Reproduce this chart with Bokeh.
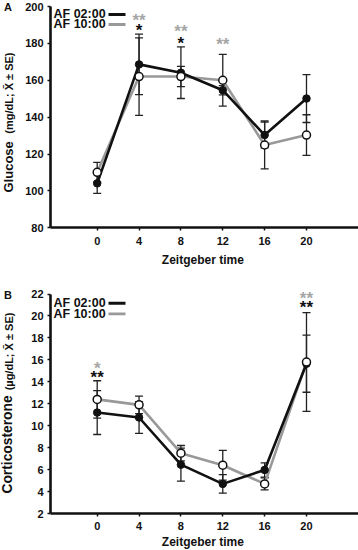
import math
from bokeh.plotting import figure
from bokeh.layouts import column
from bokeh.models import ColumnDataSource, Whisker, TeeHead, Label, FixedTicker, Range1d
from bokeh.embed import file_html
from bokeh.resources import INLINE

# ---------------- data ----------------
zt = [0, 4, 8, 12, 16, 20]

glu_af02 = [104.1, 168.6, 164.1, 154.6, 130.3, 150.1]
glu_af02_se = [5.4, 16.4, 14.0, 2.5, 7.0, 13.0]
glu_af10 = [110.1, 162.0, 162.0, 160.0, 124.9, 130.3]
glu_af10_se = [5.4, 21.0, 5.5, 14.0, 13.0, 11.0]

cort_af02 = [11.2, 10.75, 6.45, 4.7, 5.97, 15.65]
cort_af02_se = [2.0, 1.45, 1.5, 0.85, 0.65, 2.6]
cort_af10 = [12.4, 11.9, 7.5, 6.4, 4.7, 15.8]
cort_af10_se = [1.7, 0.8, 0.7, 1.35, 0.55, 4.5]

series_names = ["AF 02:00", "AF 10:00"]
glu_ticks = [80, 100, 120, 140, 160, 180, 200]
cort_ticks = [2, 4, 6, 8, 10, 12, 14, 16, 18, 20, 22]
x_ticks = [0, 4, 8, 12, 16, 20]

# significance marks: (zt, text, series index, level)
glu_sig = [(4, "**", 1, 194.6), (4, "*", 0, 189.2), (8, "**", 1, 188.6),
           (8, "*", 0, 182.1), (12, "**", 1, 181.6)]
cort_sig = [(0, "*", 1, 15.58), (0, "**", 0, 14.69), (20, "**", 1, 21.91),
            (20, "**", 0, 21.07)]

# ---------------- style ----------------
FONT = "Liberation Sans"
BLACK = "#111111"
GREY = "#999999"
STAR_GREY = "#a6a6a6"
W = 358
X0, X1 = -9.24, 24.97      # full frame width
YAX = -4.46                # where the y axis sits
PX_X = 10.465              # px per x unit


def px2x(px):
    return X0 + px / PX_X


def make_panel(panel, ylo, yhi, ybot, ytop, ticks, af02, af02se, af10, af10se,
               sig, ylab_main, ylab_unit, main_size, main_start, unit_end, leg_y,
               tick_std, lab_std):
    p = figure(width=W, height=275, output_backend="svg",
               toolbar_location=None, x_range=Range1d(X0, X1),
               y_range=Range1d(ybot, ytop), min_border_left=0,
               min_border_right=0, min_border_top=0, min_border_bottom=0)
    p.outline_line_color = None
    p.grid.visible = False
    p.background_fill_color = "white"
    p.border_fill_color = "white"

    for ax in (p.xaxis[0], p.yaxis[0]):
        ax.axis_line_width = 2.6
        ax.axis_line_color = BLACK
        ax.major_tick_line_width = 1.5
        ax.major_tick_line_color = BLACK
        ax.major_tick_in = 0
        ax.major_tick_out = 3
        ax.minor_tick_line_color = None
        ax.major_label_text_font = FONT
        ax.major_label_text_font_style = "bold"
        ax.major_label_text_font_size = "11px"
        ax.major_label_text_color = BLACK
    p.yaxis.fixed_location = YAX
    p.xaxis.fixed_location = ylo
    p.yaxis.bounds = (ylo, yhi)
    p.xaxis.bounds = (YAX, X1)
    p.xaxis.ticker = FixedTicker(ticks=x_ticks)
    p.yaxis.ticker = FixedTicker(ticks=ticks)
    p.yaxis.major_label_standoff = 4
    p.xaxis.major_label_standoff = tick_std
    p.xaxis.axis_label = "Zeitgeber  time"
    p.xaxis.axis_label_text_font = FONT
    p.xaxis.axis_label_text_font_style = "bold"
    p.xaxis.axis_label_text_font_size = "12px"
    p.xaxis.axis_label_text_color = BLACK
    p.xaxis.axis_label_standoff = lab_std

    s02 = ColumnDataSource(dict(x=zt, y=af02,
                                lo=[a - b for a, b in zip(af02, af02se)],
                                hi=[a + b for a, b in zip(af02, af02se)]))
    s10 = ColumnDataSource(dict(x=zt, y=af10,
                                lo=[a - b for a, b in zip(af10, af10se)],
                                hi=[a + b for a, b in zip(af10, af10se)]))
    for s in (s02, s10):
        w = Whisker(base="x", upper="hi", lower="lo", source=s,
                    line_color="#222222", line_width=1.3,
                    upper_head=TeeHead(size=8, line_color="#222222", line_width=1.3),
                    lower_head=TeeHead(size=8, line_color="#222222", line_width=1.3))
        p.add_layout(w)

    p.line("x", "y", source=s10, line_color=GREY, line_width=2.6)
    p.line("x", "y", source=s02, line_color=BLACK, line_width=2.6)
    p.scatter("x", "y", source=s02, size=7.5, fill_color=BLACK, line_color=BLACK)
    p.scatter("x", "y", source=s10, size=8, fill_color="white", line_color=BLACK,
              line_width=1.5)

    # legend (text left, line sample right)
    for name, col, ly in zip(series_names, (BLACK, GREY), leg_y):
        p.add_layout(Label(x=px2x(53), y=ly, text=name, text_font=FONT,
                           text_font_style="bold", text_font_size="12.5px",
                           text_color=BLACK, text_align="left",
                           text_baseline="middle"))
        p.segment(x0=[px2x(108)], y0=[ly], x1=[px2x(125)], y1=[ly],
                  line_color=col, line_width=2.8)

    for xs, txt, si, lvl in sig:
        p.add_layout(Label(x=xs, y=lvl, text=txt, text_font=FONT,
                           text_font_style="bold", text_font_size="17px",
                           text_color=(BLACK if si == 0 else STAR_GREY),
                           text_align="center", text_baseline="middle",
                           y_offset=-3.6))

    # rotated y-axis title with two font sizes, sharing one baseline at x=12px
    msize = float(main_size.replace("px", ""))
    p.add_layout(Label(x=px2x(12 - 0.346 * msize), y=main_start, text=ylab_main,
                       angle=math.pi / 2, text_font=FONT, text_font_style="bold",
                       text_font_size=main_size, text_color=BLACK,
                       text_align="left", text_baseline="middle"))
    p.add_layout(Label(x=px2x(12 - 0.346 * 11), y=unit_end, text=ylab_unit,
                       angle=math.pi / 2, text_font=FONT, text_font_style="bold",
                       text_font_size="11px", text_color=BLACK,
                       text_align="right", text_baseline="middle"))
    # panel letter
    p.add_layout(Label(x=px2x(7.5), y=yhi, y_offset=-0.5, text=panel,
                       text_font=FONT, text_font_style="bold",
                       text_font_size="11px", text_color=BLACK,
                       text_align="center", text_baseline="middle"))
    return p


pA = make_panel("A", 80, 200, 54.13, 203.25, glu_ticks, glu_af02, glu_af02_se,
                glu_af10, glu_af10_se, glu_sig, "Glucose",
                "(mg/dL; X\u0304 \u00b1 SE)", "13px", 99.14, 175.05,
                [195.66, 190.24], 6, 5)
pB = make_panel("B", 2, 22, -1.371, 23.69, cort_ticks, cort_af02, cort_af02_se,
                cort_af10, cort_af10_se, cort_sig, "Corticosterone",
                "(\u00b5g/dL; X\u0304 \u00b1 SE)", "13.8px", 3.82, 20.31,
                [21.16, 20.2], 5, 2)

layout = column(pA, pB)
open("out.html", "w").write(file_html(layout, INLINE))
